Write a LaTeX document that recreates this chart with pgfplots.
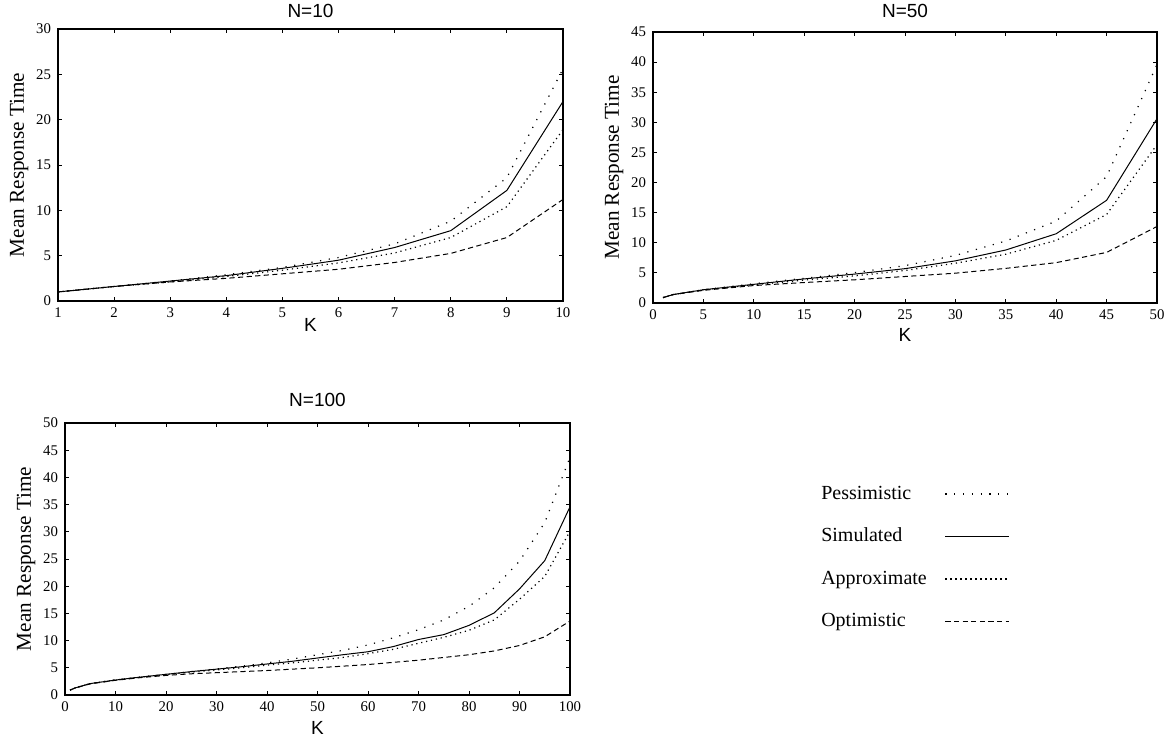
\documentclass[border=0pt]{standalone}
\usepackage{fontspec}
\setmainfont{Liberation Serif}
\newfontfamily\helv{Liberation Sans}
\usepackage{pgfplots}
\pgfplotsset{compat=1.18}

\pgfplotsset{
  rtplot/.style={
    scale only axis,
    anchor=north west,
    axis line style={line width=0.6pt},
    every tick/.style={line width=0.5pt,black},
    major tick length=2pt,
    tick align=inside,
    tick label style={font=\fontsize{7.4}{8}\selectfont},
    /pgf/number format/assume math mode=true,
    label style={font=\fontsize{10.6}{12}\selectfont},
    every axis title shift=0pt,
    title style={font=\helv\fontsize{9.5}{11}\selectfont,
      at={(axis description cs:0.5,1)},anchor=center},
    xlabel style={font=\helv\fontsize{9.5}{11}\selectfont,
      at={(axis description cs:0.5,0)},anchor=center},
    ylabel style={at={(axis description cs:0,0.5)},anchor=center,yshift=19.5pt},
    xlabel={K},
    ylabel={Mean Response Time},
    no markers,
  },
  pess/.style={black,line width=0.6pt,dash pattern=on 0.6pt off 3.8pt},
  simu/.style={black,line width=0.5pt,solid},
  appr/.style={black,line width=0.6pt,dash pattern=on 0.6pt off 1.9pt},
  opti/.style={black,line width=0.5pt,dash pattern=on 2.6pt off 1.7pt},
}

\begin{document}
\begin{tikzpicture}
\useasboundingbox (0,0) rectangle (583pt,-372pt);

% N=10
\begin{axis}[rtplot,
  at={(29pt,-14.5pt)}, width=252.5pt, height=136pt,
  xmin=1, xmax=10, ymin=0, ymax=30,
  xtick={1,...,10}, ytick={0,5,...,30},
  title={N=10}, title style={yshift=9.25pt},
  xlabel style={yshift=-12pt},
]
\addplot[pess] coordinates {(1,1.0) (2,1.6) (3,2.2) (4,2.9) (5,3.7) (6,4.8) (7,6.3) (8,8.8) (9,13.6) (10,25.6)};
\addplot[simu] coordinates {(1,1.0) (2,1.6) (3,2.2) (4,2.8) (5,3.6) (6,4.5) (7,5.9) (8,7.76) (9,12.2) (10,22.0)};
\addplot[appr] coordinates {(1,1.0) (2,1.6) (3,2.1) (4,2.7) (5,3.4) (6,4.2) (7,5.3) (8,7.0) (9,10.4) (10,18.9)};
\addplot[opti] coordinates {(1,1.0) (2,1.6) (3,2.1) (4,2.5) (5,3.0) (6,3.5) (7,4.25) (8,5.25) (9,7.0) (10,11.2)};
\end{axis}

% N=50
\begin{axis}[rtplot,
  at={(326.5pt,-16pt)}, width=252pt, height=135.5pt,
  xmin=0, xmax=50, ymin=0, ymax=45,
  xtick={0,5,...,50}, ytick={0,5,...,45},
  title={N=50}, title style={yshift=10.75pt},
  xlabel style={yshift=-16pt},
]
\addplot[pess] coordinates {(1,0.9) (2,1.4) (5,2.2) (10,3.2) (15,4.1) (20,5.05) (25,6.2) (30,7.9) (35,10.3) (40,13.6) (45,21.0) (50,39.6)};
\addplot[simu] coordinates {(1,0.9) (2,1.4) (5,2.2) (10,3.1) (15,4.0) (20,4.8) (25,5.7) (30,7.0) (35,8.8) (40,11.5) (45,17.05) (50,30.6)};
\addplot[appr] coordinates {(1,0.9) (2,1.4) (5,2.2) (10,3.0) (15,3.8) (20,4.5) (25,5.4) (30,6.6) (35,8.1) (40,10.4) (45,14.7) (50,26.3)};
\addplot[opti] coordinates {(1,0.9) (2,1.4) (5,2.1) (10,2.9) (15,3.4) (20,3.85) (25,4.4) (30,4.95) (35,5.75) (40,6.7) (45,8.4) (50,12.7)};
\end{axis}

% N=100
\begin{axis}[rtplot,
  at={(32.5pt,-211.5pt)}, width=252.5pt, height=136pt,
  xmin=0, xmax=100, ymin=0, ymax=50,
  xtick={0,10,...,100}, ytick={0,5,...,50},
  title={N=100}, title style={yshift=11.5pt},
  xlabel style={yshift=-16.5pt},
  legend plot pos=right,
  legend cell align=left,
  legend image code/.code={\draw[#1] (0pt,0pt) -- (32pt,0pt);},
  legend style={at={(axis description cs:1.477,0.80)},anchor=north west,
    draw=none,fill=none,font=\fontsize{10}{12}\selectfont,
    row sep=9pt,column sep=7pt},
]
\addplot[pess] coordinates {(1,0.9) (2,1.3) (5,2.1) (10,2.8) (15,3.3) (20,3.8) (25,4.3) (30,4.8) (35,5.3) (40,5.9) (45,6.6) (50,7.4) (55,8.2) (60,9.2) (65,10.5) (70,12.0) (75,13.8) (80,16.3) (85,19.7) (90,24.6) (95,31.7) (100,43.7)};
\addlegendentry{Pessimistic}
\addplot[simu] coordinates {(1,0.9) (2,1.3) (5,2.1) (10,2.75) (15,3.3) (20,3.8) (25,4.3) (30,4.75) (35,5.2) (40,5.7) (45,6.2) (50,6.8) (55,7.4) (60,7.95) (65,8.9) (70,10.2) (75,11.1) (80,12.8) (85,15.1) (90,19.5) (95,24.7) (100,34.6)};
\addlegendentry{Simulated}
\addplot[appr] coordinates {(1,0.9) (2,1.3) (5,2.1) (10,2.75) (15,3.3) (20,3.75) (25,4.2) (30,4.6) (35,5.0) (40,5.5) (45,5.9) (50,6.4) (55,6.9) (60,7.6) (65,8.4) (70,9.5) (75,10.6) (80,11.9) (85,13.8) (90,17.6) (95,21.8) (100,30.1)};
\addlegendentry{Approximate}
\addplot[opti] coordinates {(1,0.9) (2,1.3) (5,2.05) (10,2.7) (15,3.2) (20,3.6) (25,3.9) (30,4.1) (35,4.3) (40,4.5) (45,4.75) (50,5.0) (55,5.3) (60,5.6) (65,6.0) (70,6.4) (75,6.9) (80,7.4) (85,8.1) (90,9.1) (95,10.7) (100,13.6)};
\addlegendentry{Optimistic}
\end{axis}
\end{tikzpicture}
\end{document}
